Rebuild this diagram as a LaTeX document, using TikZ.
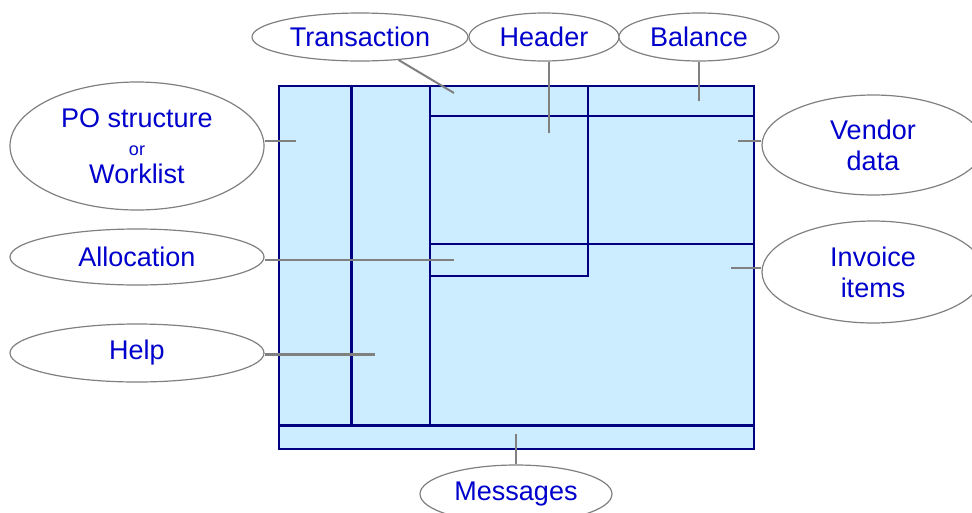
\documentclass[tikz,border=0pt]{standalone}
\usepackage{fontspec}
\setmainfont{Liberation Sans}
\usetikzlibrary{shapes.geometric, positioning}
\definecolor{boxfill}{RGB}{204,236,255}
\definecolor{boxline}{RGB}{0,0,128}
\definecolor{labelblue}{RGB}{0,0,204}
\definecolor{linegray}{RGB}{128,128,128}

\begin{document}
\begin{tikzpicture}[x=1pt,y=-1pt,line width=1.5pt]

	\tikzset{lbl/.style={ellipse, draw=linegray, line width=1.2pt,
			fill=white, text=labelblue, inner sep=0pt, align=center,
			font=\fontsize{27}{31}\selectfont}}
	\tikzset{pane/.style={draw=boxline, line width=2pt}}
	\tikzset{lead/.style={draw=linegray, line width=2pt}}

	\clip (0,0) rectangle (972,512);

	% screen layout
	\fill[boxfill] (279,86) rectangle (754,449);
	\draw[pane] (430,116) -- (754,116);
	\draw[pane] (430,244) -- (754,244);
	\draw[pane] (588,86) -- (588,276) -- (430,276);
	\draw[pane] (430,86) -- (430,425);
	\draw[pane, line width=3pt] (351,86) -- (351,425);
	\draw[pane, line width=3pt] (279,425) -- (754,425);
	\draw[pane] (279,86) rectangle (754,449);

	% labels
	\node[lbl, minimum width=216, minimum height=48] (T) at (360,37) {Transaction};
	\node[lbl, minimum width=150, minimum height=48] (H) at (544,37) {Header};
	\node[lbl, minimum width=160, minimum height=48] (B) at (699,37) {Balance};
	\node[lbl, minimum width=254, minimum height=128, font=\fontsize{27}{28}\selectfont] (P) at (137,146)
		{PO structure\\{\fontsize{18}{20}\selectfont or}\\Worklist};
	\node[lbl, minimum width=254, minimum height=56] (A) at (137,257) {Allocation};
	\node[lbl, minimum width=254, minimum height=58] (L) at (137,353) {Help};
	\node[lbl, minimum width=222, minimum height=100] (V) at (873,145) {Vendor\\data};
	\node[lbl, minimum width=222, minimum height=102] (I) at (873,272) {Invoice\\items};
	\node[lbl, minimum width=192, minimum height=58] (M) at (516,494) {Messages};

	% pointers into the screen
	\coordinate (tc) at (454,93);
	\coordinate (hc) at (549,133);
	\coordinate (bc) at (699,101);
	\coordinate (pc) at (296,141);
	\coordinate (ac) at (454,260);
	\coordinate (lc) at (375,354);
	\coordinate (vc) at (738,141);
	\coordinate (ic) at (731,268);
	\coordinate (mc) at (516,434);

	\draw[lead] (T) -- (tc);
	\draw[lead] (hc |- H.south) -- (hc);
	\draw[lead] (B.south) -- (bc);
	\draw[lead] (P.east |- pc) -- (pc);
	\draw[lead] (A.east |- ac) -- (ac);
	\draw[lead, line width=3pt] (L.east |- lc) -- (lc);
	\draw[lead] (V.west |- vc) -- (vc);
	\draw[lead] (I.west |- ic) -- (ic);
	\draw[lead] (M.north) -- (mc);
\end{tikzpicture}
\end{document}
